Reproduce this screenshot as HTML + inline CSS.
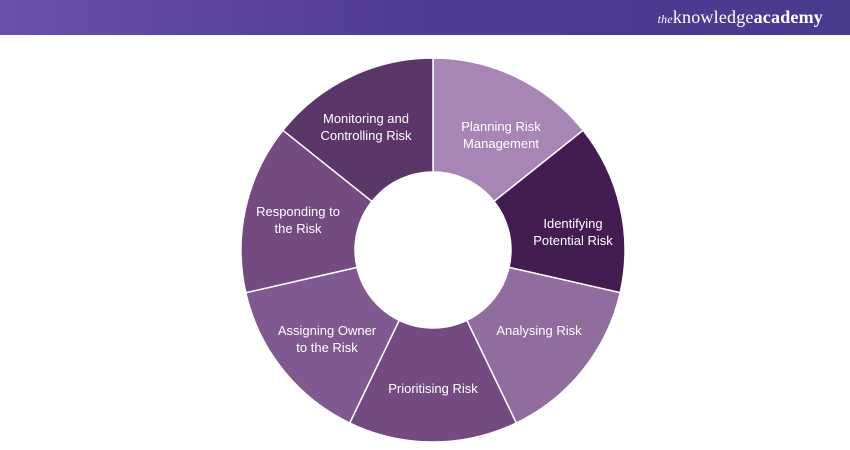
<!DOCTYPE html>
<html><head><meta charset="utf-8"><style>
body{margin:0;width:850px;height:450px;background:#fff;overflow:hidden;font-family:"Liberation Sans",sans-serif}
.hdr{position:absolute;left:0;top:0;width:850px;height:35px;background:linear-gradient(90deg,#6a50a8,#4f3b92 50%,#4a3a8e)}
.logo{position:absolute;right:27px;top:7px;color:#fff;font-family:"Liberation Serif",serif;font-size:18px;letter-spacing:0.2px}
.logo i{font-size:12px}
</style></head><body>
<div class="hdr"><div class="logo"><i>the</i>knowledge<b>academy</b></div></div>
<svg width="850" height="450" style="position:absolute;left:0;top:0">
<g stroke="#fff" stroke-width="1.5">
<path fill="#a785b4" d="M433,58 A192,192 0 0 1 583.1,130.3 L494,201.4 A78,78 0 0 0 433,172Z"/>
<path fill="#431d52" d="M583.1,130.3 A192,192 0 0 1 620.2,292.7 L509,267.4 A78,78 0 0 0 494,201.4Z"/>
<path fill="#906c9f" d="M620.2,292.7 A192,192 0 0 1 516.3,423 L466.8,320.3 A78,78 0 0 0 509,267.4Z"/>
<path fill="#744b81" d="M516.3,423 A192,192 0 0 1 349.7,423 L399.2,320.3 A78,78 0 0 0 466.8,320.3Z"/>
<path fill="#7f5990" d="M349.7,423 A192,192 0 0 1 245.8,292.7 L357,267.4 A78,78 0 0 0 399.2,320.3Z"/>
<path fill="#734b80" d="M245.8,292.7 A192,192 0 0 1 282.9,130.3 L372,201.4 A78,78 0 0 0 357,267.4Z"/>
<path fill="#5b3668" d="M282.9,130.3 A192,192 0 0 1 433,58 L433,172 A78,78 0 0 0 372,201.4Z"/>
</g>
<g fill="#fff" font-family="Liberation Sans, sans-serif" font-size="13" text-anchor="middle">
<text x="501" y="131">Planning Risk</text><text x="501" y="148">Management</text>
<text x="573" y="228">Identifying</text><text x="573" y="245">Potential Risk</text>
<text x="539" y="335">Analysing Risk</text>
<text x="433" y="393">Prioritising Risk</text>
<text x="327" y="335">Assigning Owner</text><text x="327" y="352">to the Risk</text>
<text x="298" y="216">Responding to</text><text x="298" y="233">the Risk</text>
<text x="366" y="123">Monitoring and</text><text x="366" y="140">Controlling Risk</text>
</g>
</svg>
</body></html>
